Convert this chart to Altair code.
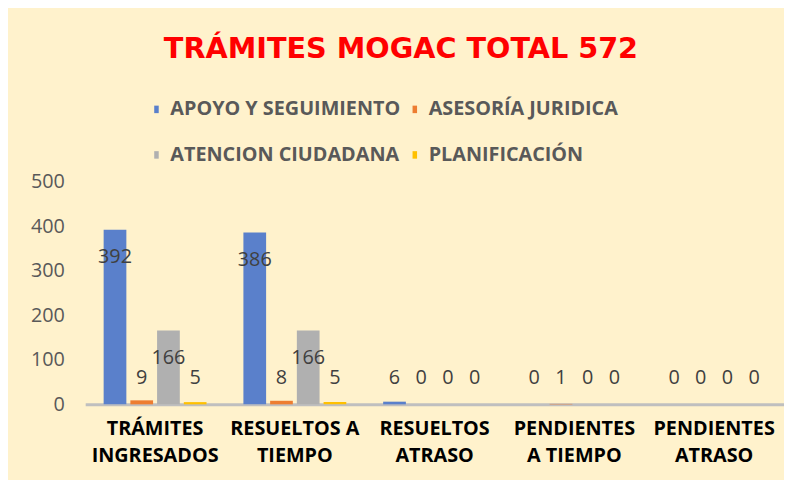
import altair as alt
import pandas as pd

categories = ["TRÁMITES|INGRESADOS", "RESUELTOS A|TIEMPO", "RESUELTOS|ATRASO",
              "PENDIENTES|A TIEMPO", "PENDIENTES|ATRASO"]
series = ["APOYO Y SEGUIMIENTO", "ASESORÍA JURIDICA", "ATENCION CIUDADANA", "PLANIFICACIÓN"]
apoyo = [392, 386, 6, 0, 0]
asesoria = [9, 8, 0, 1, 0]
atencion = [166, 166, 0, 0, 0]
planificacion = [5, 5, 0, 0, 0]
colors = ["#5A80CB", "#ED7D31", "#B0B0B0", "#FFC000"]
y_ticks = [0, 100, 200, 300, 400, 500]

rows = []
for s, vals in zip(series, [apoyo, asesoria, atencion, planificacion]):
    for c, v in zip(categories, vals):
        rows.append({"cat": c, "serie": s, "valor": v})
df = pd.DataFrame(rows)

x = alt.X("cat:N", sort=categories, title=None,
          scale=alt.Scale(paddingInner=0, paddingOuter=0),
          axis=alt.Axis(labelExpr="split(datum.value, '|')", labelAngle=0,
                        labelFont="Open Sans", labelFontSize=20, labelFontWeight="bold",
                        labelColor="#000000", labelLineHeight=28, labelPadding=14,
                        labelBaseline="top",
                        ticks=False, domain=True, domainColor="#BFBFBF", domainWidth=3))
xo = alt.XOffset("serie:N", sort=series,
                 scale=alt.Scale(paddingInner=0.15, paddingOuter=0.69))

bars = alt.Chart(df).mark_bar().encode(
    x=x, xOffset=xo,
    y=alt.Y("valor:Q", title=None,
            scale=alt.Scale(domain=[0, 500], nice=False),
            axis=alt.Axis(values=y_ticks, grid=False, domain=False, ticks=False,
                          labelFont="Open Sans", labelFontSize=20, labelColor="#595959",
                          labelPadding=21)),
    color=alt.Color("serie:N", sort=series,
                    scale=alt.Scale(domain=series, range=colors),
                    legend=alt.Legend(title=None, orient="none", legendX=62, legendY=-83,
                                      direction="horizontal",
                                      columns=2, columnPadding=4, rowPadding=26,
                                      symbolType="M-0.3,-0.5H0.3V0.5H-0.3Z",
                                      symbolSize=230, symbolStrokeWidth=0,
                                      labelFont="Open Sans", labelFontSize=20,
                                      labelFontWeight="bold", labelColor="#595959",
                                      labelLimit=400)),
)

labels = alt.Chart(df).transform_calculate(
    ly="max(datum.valor - 62, 58)"
).mark_text(font="Open Sans", fontSize=20, color="#404040", baseline="middle").encode(
    x=x, xOffset=xo,
    y=alt.Y("ly:Q"),
    text=alt.Text("valor:Q"),
)

chart = alt.layer(bars, labels).properties(
    width=706, height=225,
    title=alt.TitleParams("TRÁMITES MOGAC TOTAL 572", font="DejaVu Sans", fontSize=29,
                          fontWeight="bold", color="#FF0000", anchor="middle",
                          offset=36, dx=-34),
    autosize=alt.AutoSizeParams(type="none"),
    padding={"left": 78, "top": 173, "right": 0, "bottom": 74},
    background="#FFF2CC",
).configure_view(stroke=None)

chart.save("out.html", embed_options={"renderer": "svg", "actions": False})
